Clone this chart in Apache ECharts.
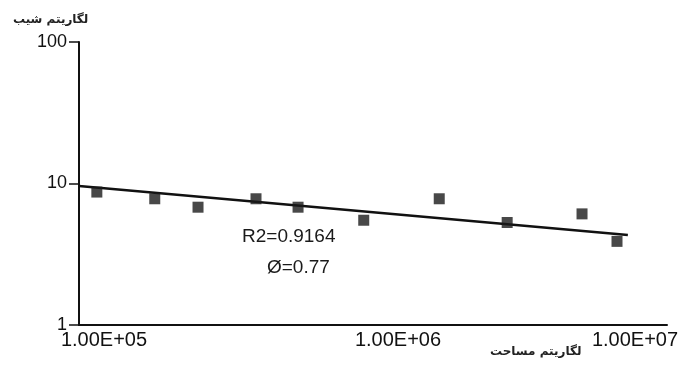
<!DOCTYPE html>
<html>
<head>
<meta charset="utf-8">
<script src="https://cdn.jsdelivr.net/npm/echarts@6/dist/echarts.min.js"></script>
<style>
  html, body { margin: 0; padding: 0; background: #fff; }
  #chart { width: 678px; height: 367px; }
</style>
</head>
<body>
<div id="chart"></div>
<script>
// area (x) vs slope (y), both log
const areaValues = [1.15e5, 1.81e5, 2.54e5, 4.0e5, 5.56e5, 9.3e5, 1.68e6, 2.86e6, 5.14e6, 6.76e6];
const slopeValues = [8.7, 7.8, 6.8, 7.8, 6.8, 5.5, 7.8, 5.3, 6.1, 3.9];

// power trend line end points
const trendX = [1.0e5, 7.36e6];
const trendY = [9.6, 4.33];

const xTickLabels = { 100000: "1.00E+05", 1000000: "1.00E+06", 10000000: "1.00E+07" };
const yTickLabels = { 1: "1", 10: "10", 100: "100" };

const xTitle = "لگاریتم مساحت";
const yTitle = "لگاریتم شیب";
const r2Text = "R2=0.9164";
const phiText = "Ø=0.77";

const chart = echarts.init(document.getElementById("chart"));

const font = "Liberation Sans, Arial, sans-serif";

const option = {
  backgroundColor: "#fff",
  animation: false,
  grid: {
    left: 79,
    right: 11,
    top: 42,
    bottom: 42,
    containLabel: false,
    outerBoundsMode: "none",
  },
  xAxis: {
    type: "log",
    logBase: 10,
    min: 1e5,
    max: 1e7,
    axisLine: { onZero: false, lineStyle: { color: "#111", width: 2 } },
    axisTick: { show: false },
    splitLine: { show: false },
    minorTick: { show: false },
    axisLabel: {
      margin: 5,
      color: "#111",
      fontFamily: font,
      fontSize: 20,
      formatter: (v) => {
        const k = Math.round(v);
        if (k === 100000) return "{a|" + xTickLabels[k] + "}";
        if (k === 1000000) return "{b|" + xTickLabels[k] + "}";
        if (k === 10000000) return "{c|" + xTickLabels[k] + "}";
        return "";
      },
      rich: {
        a: { fontFamily: font, fontSize: 20, color: "#111", padding: [0, 0, 0, 50] },
        b: { fontFamily: font, fontSize: 20, color: "#111", padding: [0, 0, 0, 50] },
        c: { fontFamily: font, fontSize: 20, color: "#111", padding: [0, 64, 0, 0] },
      },
    },
  },
  yAxis: {
    type: "log",
    logBase: 10,
    min: 1,
    max: 100,
    axisLine: { onZero: false, lineStyle: { color: "#111", width: 2 } },
    axisTick: { show: true, length: 10, lineStyle: { color: "#111", width: 1.5 } },
    splitLine: { show: false },
    axisLabel: {
      margin: 12,
      color: "#111",
      fontFamily: font,
      fontSize: 18,
      formatter: (v) => yTickLabels[Math.round(v)] || "",
    },
  },
  graphic: [
    {
      type: "text",
      left: 13,
      top: 14,
      style: { text: yTitle, font: "bold 12px 'DejaVu Sans', sans-serif", fill: "#222" },
    },
    {
      type: "text",
      left: 490,
      top: 346,
      style: { text: xTitle, font: "bold 12px 'DejaVu Sans', sans-serif", fill: "#222" },
    },
    {
      type: "text",
      left: 242,
      top: 227,
      style: { text: r2Text, font: "19px " + font, fill: "#1a1a1a" },
    },
    {
      type: "text",
      left: 267,
      top: 258,
      style: { text: phiText, font: "19px " + font, fill: "#1a1a1a" },
    },
  ],
  series: [
    {
      type: "line",
      data: trendX.map((x, i) => [x, trendY[i]]),
      symbol: "none",
      lineStyle: { color: "#111", width: 2.5 },
      z: 2,
    },
    {
      type: "scatter",
      data: areaValues.map((x, i) => [x, slopeValues[i]]),
      symbol: "rect",
      symbolSize: 11,
      itemStyle: { color: "#1a1a1a" },
      z: 3,
    },
  ],
};

chart.setOption(option);
</script>
</body>
</html>
